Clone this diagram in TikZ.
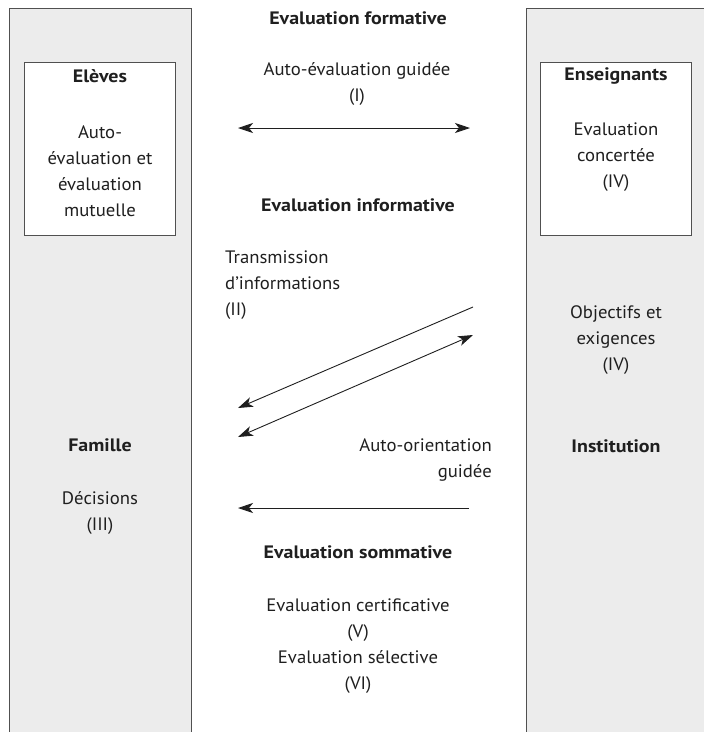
\documentclass[tikz,border=0pt]{standalone}
\usepackage{fontspec}
\setmainfont[FakeStretch=1.04]{PT Sans}
\newfontfamily\headfont[FakeStretch=1.11]{PT Sans}
\usetikzlibrary{arrows.meta}
\definecolor{colfill}{RGB}{236,236,236}
\definecolor{rulegray}{RGB}{80,80,80}
\begin{document}
\begin{tikzpicture}[x=1pt,y=-1pt,
  txt/.style={font=\fontsize{18}{26}\selectfont, align=center, inner sep=0pt, text=black!88},
  ttl/.style={txt, font=\fontsize{18}{26}\headfont\bfseries},
  panel/.style={fill=colfill, draw=none},
  rim/.style={draw=rulegray, line width=0.9pt},
  actor/.style={draw=rulegray, line width=0.9pt, fill=white, inner sep=0pt},
  link/.style={line width=0.9pt, black!88, -{Stealth[length=15pt,width=10pt,inset=4pt]}},
  duplex/.style={link, {Stealth[length=15pt,width=10pt,inset=4pt]}-{Stealth[length=15pt,width=10pt,inset=4pt]}}
]
\useasboundingbox (0,0) rectangle (704,732);

% side panels (left: pupils/family, right: teachers/institution)
\fill[panel] (9,8) rectangle (191,740);
\draw[rim] (9,740) -- (9,8) -- (191,8) -- (191,740);
\fill[panel] (526,8) rectangle (712,740);
\draw[rim] (526,740) -- (526,8) -- (712,8);

% framed actor boxes
\node[actor, minimum width=151pt, minimum height=173pt] (eleves) at (99.5,148.5) {};
\node[actor, minimum width=151pt, minimum height=173pt] (ens) at (616,148.5) {};

% left column texts
\node[ttl] (elevesT) at (100,76) {Elèves};
\node[txt] (elevesB) at (100,171) {Auto-\\évaluation et\\évaluation\\mutuelle};
\node[ttl] (famille) at (100,445) {Famille};
\node[txt] (decisions) at (100,513) {Décisions\\(III)};

% right column texts
\node[ttl] (ensT) at (616,76) {Enseignants};
\node[txt] (ensB) at (616,157) {Evaluation\\concertée\\(IV)};
\node[txt] (objectifs) at (616,340) {Objectifs et\\exigences\\(IV)};
\node[ttl] (institution) at (616,446) {Institution};

% middle texts
\node[ttl] (formative) at (358,18) {Evaluation formative};
\node[txt] (autoeval) at (357,84) {Auto-évaluation guidée\\(I)};
\node[ttl] (informative) at (358,205) {Evaluation informative};
\node[txt, align=left, anchor=west] (transmission) at (225,285) {Transmission\\d’informations\\(II)};
\node[txt, align=right, anchor=east] (autoorient) at (492,460) {Auto-orientation\\guidée};
\node[ttl] (sommative) at (358,552) {Evaluation sommative};
\node[txt] (certif) at (358,646) {Evaluation certificative\\(V)\\Evaluation sélective\\(VI)};

% connector end points
\coordinate (aL) at (238,128);
\coordinate (aR) at (470,128);
\coordinate (b1R) at (473,307);
\coordinate (b1L) at (238,408);
\coordinate (b2L) at (238,437);
\coordinate (b2R) at (473,335);
\coordinate (cR) at (469,508);
\coordinate (cL) at (238,508);

% connectors
\draw[duplex] (aL) -- (aR);
\draw[link] (b1R) -- (b1L);
\draw[duplex] (b2L) -- (b2R);
\draw[link] (cR) -- (cL);
\end{tikzpicture}
\end{document}
